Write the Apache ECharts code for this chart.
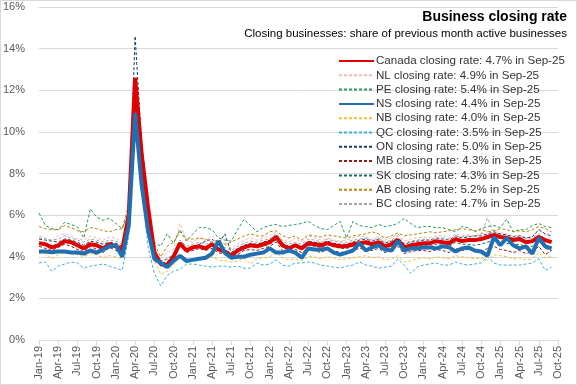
<!DOCTYPE html>
<html><head><meta charset="utf-8">
<script src="https://cdn.jsdelivr.net/npm/echarts@6/dist/echarts.min.js"></script>
<style>html,body{margin:0;padding:0;background:#fff}#c{width:577px;height:385px}</style>
</head><body><div id="c"></div>
<script>
// Month categories Jan-19 .. Oct-25 (data runs to Sep-25)
const monthNames = ['Jan','Feb','Mar','Apr','May','Jun','Jul','Aug','Sep','Oct','Nov','Dec'];
const categories = [];
for (let y = 19; y <= 25; y++) for (let m = 0; m < 12; m++) { if (y === 25 && m > 9) break; categories.push(monthNames[m] + '-' + y); }

const yTicks = [0, 2, 4, 6, 8, 10, 12, 14, 16];

const canada = [4.65,4.6,4.45,4.55,4.75,4.7,4.55,4.4,4.6,4.55,4.4,4.6,
4.5,4.35,6.0,12.6,9.0,6.4,4.2,3.65,3.6,4.0,4.65,4.3,
4.45,4.5,4.4,4.6,4.35,4.25,4.05,4.3,4.45,4.55,4.5,4.6,
4.7,4.95,4.55,4.4,4.55,4.4,4.65,4.6,4.55,4.65,4.55,4.5,
4.5,4.6,4.65,4.7,4.6,4.7,4.5,4.6,4.8,4.45,4.55,4.6,
4.65,4.65,4.75,4.7,4.65,4.85,4.75,4.8,4.8,4.85,4.95,5.05,
4.95,4.9,4.8,4.85,4.7,4.75,4.95,4.8,4.7];
const nl = [5.0,4.9,4.75,5.0,5.1,5.0,4.85,4.8,5.0,4.9,4.8,4.95,
4.9,4.7,6.0,11.5,8.5,6.2,4.3,3.9,4.2,4.4,5.6,4.8,
4.7,4.9,4.8,5.0,4.7,4.6,4.4,4.6,4.8,4.9,4.8,4.9,
5.0,5.2,4.8,4.7,4.9,4.7,5.0,4.9,4.8,4.9,4.8,4.75,
4.8,4.9,5.0,4.95,4.85,5.0,4.8,4.9,5.1,4.75,4.85,4.9,
4.95,4.9,5.0,5.0,4.9,5.1,5.0,5.05,5.0,5.1,5.2,5.3,
5.15,5.1,5.0,5.05,4.9,5.0,5.3,5.05,4.9];
const pe = [6.1,5.5,5.35,5.3,5.65,5.55,5.45,4.9,6.3,5.9,5.75,5.85,
5.6,5.35,6.2,11.0,8.5,6.5,4.7,4.5,5.1,4.65,5.3,4.75,
5.1,5.4,5.4,5.3,4.9,4.8,4.75,5.3,5.8,5.5,5.2,5.4,
5.5,5.55,5.45,5.5,5.55,5.6,5.7,5.5,5.35,5.3,5.5,5.7,
4.9,5.7,5.5,5.45,5.4,5.55,5.45,5.5,5.6,5.85,5.6,5.4,
5.45,5.45,5.4,5.4,5.3,5.2,5.45,5.4,5.2,5.35,5.45,5.5,
5.4,5.8,5.2,5.3,5.3,5.5,5.6,5.45,5.4];
const ns = [4.25,4.25,4.22,4.25,4.25,4.2,4.2,4.15,4.3,4.2,4.35,4.5,
4.55,4.0,5.5,10.9,7.5,5.3,3.9,3.7,3.5,3.8,4.05,3.8,
3.85,3.9,3.95,4.15,4.75,4.2,3.95,4.0,4.0,4.1,4.15,4.2,
4.4,4.2,4.2,4.3,4.2,3.95,4.4,4.35,4.35,4.4,4.2,4.1,
4.2,4.3,4.65,4.3,4.45,4.55,4.35,4.3,4.75,4.3,4.4,4.4,
4.45,4.45,4.4,4.5,4.45,4.25,4.4,4.45,4.3,4.25,4.05,4.95,
4.55,4.9,4.55,4.4,4.5,4.15,4.9,4.5,4.4];
const nb = [4.2,4.15,3.9,4.1,4.2,4.15,4.1,4.0,4.15,4.1,3.95,4.05,
4.0,3.9,5.2,11.0,7.8,5.5,3.8,3.15,3.3,3.6,4.0,3.75,
3.9,3.95,3.85,4.0,3.85,3.8,3.75,3.8,3.95,3.65,3.9,3.95,
4.0,4.2,3.95,3.85,3.9,3.8,4.0,4.0,3.9,4.0,3.95,3.85,
3.9,3.95,4.0,4.05,3.95,4.0,3.85,3.9,4.05,3.75,3.8,3.9,
3.95,3.9,4.0,3.95,3.9,4.05,4.0,3.95,3.9,3.95,3.85,4.1,
4.05,4.0,3.9,3.95,3.85,3.9,4.2,3.95,4.0];
const qc = [3.7,3.75,3.3,3.55,3.65,3.75,3.7,3.45,3.55,3.6,3.65,3.55,
3.45,3.35,5.0,11.5,7.5,4.5,3.2,2.6,3.1,3.3,3.4,3.65,
3.65,3.6,3.55,3.5,3.55,3.55,3.5,3.55,3.45,3.45,3.7,3.6,
3.65,3.85,3.6,3.55,3.7,3.7,3.75,3.7,3.6,3.55,3.5,3.45,
3.55,3.6,3.75,3.6,3.55,3.45,3.5,3.55,3.9,3.6,3.2,3.5,
3.6,3.65,3.7,3.6,3.6,3.75,3.65,3.6,3.65,3.7,4.0,3.7,
3.6,3.6,3.6,3.6,3.65,3.7,3.9,3.35,3.5];
const on = [4.85,4.8,4.75,4.7,4.85,4.8,4.7,4.55,4.75,4.7,4.6,4.7,
4.65,4.5,6.2,14.6,9.5,6.8,4.3,3.7,3.75,4.1,4.7,4.4,
4.5,4.6,4.75,4.85,4.6,5.1,4.2,4.4,4.55,4.65,4.6,4.7,
4.8,5.05,4.65,4.5,4.6,4.5,4.75,4.7,4.65,4.75,4.65,4.6,
4.6,4.7,4.8,4.85,4.75,4.85,4.65,4.75,4.9,4.6,4.7,4.75,
4.8,4.8,4.9,4.85,4.8,5.0,4.9,4.95,5.0,5.0,5.1,5.2,
5.1,5.05,4.95,5.0,4.9,4.95,5.3,5.1,5.0];
const mb = [4.5,4.4,4.3,4.45,4.6,4.5,4.35,4.25,4.5,4.35,4.2,4.45,
4.3,4.15,5.5,11.5,8.0,5.8,4.2,3.55,3.7,3.9,4.55,4.2,
4.3,4.4,4.3,4.4,4.2,4.1,4.0,4.1,4.3,4.35,4.3,4.4,
4.5,4.7,4.3,4.2,4.35,4.2,4.4,4.3,4.2,4.35,4.3,4.2,
4.25,4.3,4.4,4.35,4.3,4.4,4.2,4.3,4.5,4.15,4.25,4.3,
4.3,4.25,4.35,4.3,4.2,4.4,4.3,4.35,4.3,4.25,4.4,4.5,
4.35,4.3,4.2,4.3,4.15,4.25,4.5,4.1,4.3];
const sk = [4.7,4.6,4.5,4.6,4.75,4.65,4.5,4.4,4.55,4.5,4.4,4.5,
4.45,4.3,5.8,11.2,8.2,6.0,4.1,3.8,3.9,4.1,4.5,4.3,
4.4,4.45,4.5,4.5,4.4,4.3,4.2,4.35,4.5,4.5,4.45,4.5,
4.6,4.8,4.45,4.35,4.5,4.4,4.55,4.5,4.45,4.6,4.5,4.4,
4.4,4.5,4.55,4.6,4.5,4.6,4.4,4.5,4.65,4.35,4.45,4.5,
4.55,4.5,4.6,4.55,4.5,4.7,4.6,4.6,4.55,4.6,4.7,4.8,
4.7,4.65,4.55,4.6,4.5,4.5,4.75,4.4,4.3];
const ab = [5.45,5.35,5.3,5.3,5.5,5.4,5.25,5.2,5.4,5.35,5.25,5.2,
5.3,5.35,6.5,11.8,8.5,6.0,4.6,4.0,4.5,4.7,5.2,4.85,
4.85,4.9,4.85,4.7,4.8,4.6,4.7,4.85,5.0,5.1,5.0,5.0,
5.2,5.25,5.0,4.9,5.0,4.8,5.05,5.0,4.95,5.05,5.0,4.95,
4.9,5.0,5.05,5.1,5.2,5.1,4.9,5.0,5.15,5.0,5.05,5.1,
5.15,5.2,5.15,5.2,5.25,5.3,5.35,5.3,5.25,5.3,5.2,5.25,
5.35,5.3,5.2,5.25,5.2,5.3,5.45,5.35,5.2];
const bc = [4.9,4.85,4.8,4.85,5.0,4.9,4.8,4.7,4.85,4.8,4.7,4.8,
4.75,4.6,6.3,12.0,9.0,6.5,4.4,3.8,3.85,4.2,4.8,4.5,
4.6,4.7,4.6,4.75,4.55,4.45,4.3,4.5,4.65,4.75,4.7,4.8,
4.85,5.1,4.75,4.6,4.7,4.6,4.85,4.8,4.7,4.85,4.75,4.7,
4.7,4.8,4.85,4.9,4.8,4.9,4.7,4.8,5.0,4.65,4.75,4.8,
4.85,4.8,4.9,4.9,4.85,5.0,4.95,5.0,4.95,5.1,5.85,5.2,
5.05,5.0,4.9,4.95,4.85,4.9,5.1,4.85,4.7];

const seriesDefs = [
  {name:'Canada closing rate: 4.7% in Sep-25', data:canada, color:'#e00000', width:4, dashed:false, z:5},
  {name:'NL closing rate: 4.9% in Sep-25', data:nl, color:'#f4b8b8', width:1, dashed:true, z:2},
  {name:'PE closing rate: 5.4% in Sep-25', data:pe, color:'#2e9a5c', width:1, dashed:true, z:2},
  {name:'NS closing rate: 4.4% in Sep-25', data:ns, color:'#1f6fb2', width:4, dashed:false, z:6},
  {name:'NB closing rate: 4.0% in Sep-25', data:nb, color:'#f2c037', width:1, dashed:true, z:2},
  {name:'QC closing rate: 3.5% in Sep-25', data:qc, color:'#3fb0d9', width:1, dashed:true, z:2},
  {name:'ON closing rate: 5.0% in Sep-25', data:on, color:'#1c3b5e', width:1, dashed:true, z:2},
  {name:'MB closing rate: 4.3% in Sep-25', data:mb, color:'#8e1b1b', width:1, dashed:true, z:2},
  {name:'SK closing rate: 4.3% in Sep-25', data:sk, color:'#1d6b5c', width:1, dashed:true, z:2},
  {name:'AB closing rate: 5.2% in Sep-25', data:ab, color:'#b8870a', width:1, dashed:true, z:2},
  {name:'BC closing rate: 4.7% in Sep-25', data:bc, color:'#a6a6a6', width:1, dashed:true, z:2}
];

const chart = echarts.init(document.getElementById('c'), null, {renderer:'canvas'});
const font = 'Liberation Sans, Arial, sans-serif';
chart.setOption({
  animation: false,
  backgroundColor: '#fff',
  textStyle: {fontFamily: font},
  title: [
    {text:'Business closing rate', right:10, top:10, padding:0, textStyle:{fontSize:14, fontWeight:'bold', color:'#000', fontFamily:font}},
    {text:'Closing businesses: share of previous month active businesses', right:10, top:28, padding:0, textStyle:{fontSize:11.5, fontWeight:'normal', color:'#000', fontFamily:font}}
  ],
  legend: {
    orient:'vertical', left:338, top:54, itemWidth:35, itemHeight:10, itemGap:0.3,
    align:'left', padding:0,
    itemStyle:{opacity:0},
    textStyle:{fontSize:11.6, color:'#333', fontFamily:font, lineHeight:14, padding:[0,0,0,-3]},
    data: seriesDefs.map(s => s.name)
  },
  grid: {left:36, right:19, top:7, bottom:45, containLabel:false},
  xAxis: {
    type:'category', data:categories, boundaryGap:false,
    axisLine:{lineStyle:{color:'#d9d9d9'}},
    axisTick:{show:true, interval:2, length:5, lineStyle:{color:'#d9d9d9'}},
    axisLabel:{interval:2, rotate:90, fontSize:11, color:'#595959', margin:6, fontFamily:font},
    splitLine:{show:false}
  },
  yAxis: {
    type:'value', min:yTicks[0], max:yTicks[yTicks.length-1], interval:2,
    axisLine:{show:false}, axisTick:{show:false},
    axisLabel:{formatter:'{value}%', fontSize:11, color:'#595959', margin:14, fontFamily:font},
    splitLine:{lineStyle:{color:'#d9d9d9', width:1}}
  },
  graphic: [{type:'rect', shape:{x:0.5, y:0.5, width:576, height:384}, style:{fill:'none', stroke:'#d9d9d9', lineWidth:1}, silent:true, z:100}],
  series: seriesDefs.map(s => ({
    name:s.name, type:'line', data:s.data, symbol:'none', z:s.z,
    lineStyle:{color:s.color, width:s.width, type: s.dashed ? [3,2] : 'solid'},
    itemStyle:{color:s.color},
    emphasis:{disabled:true}
  }))
});
</script></body></html>
